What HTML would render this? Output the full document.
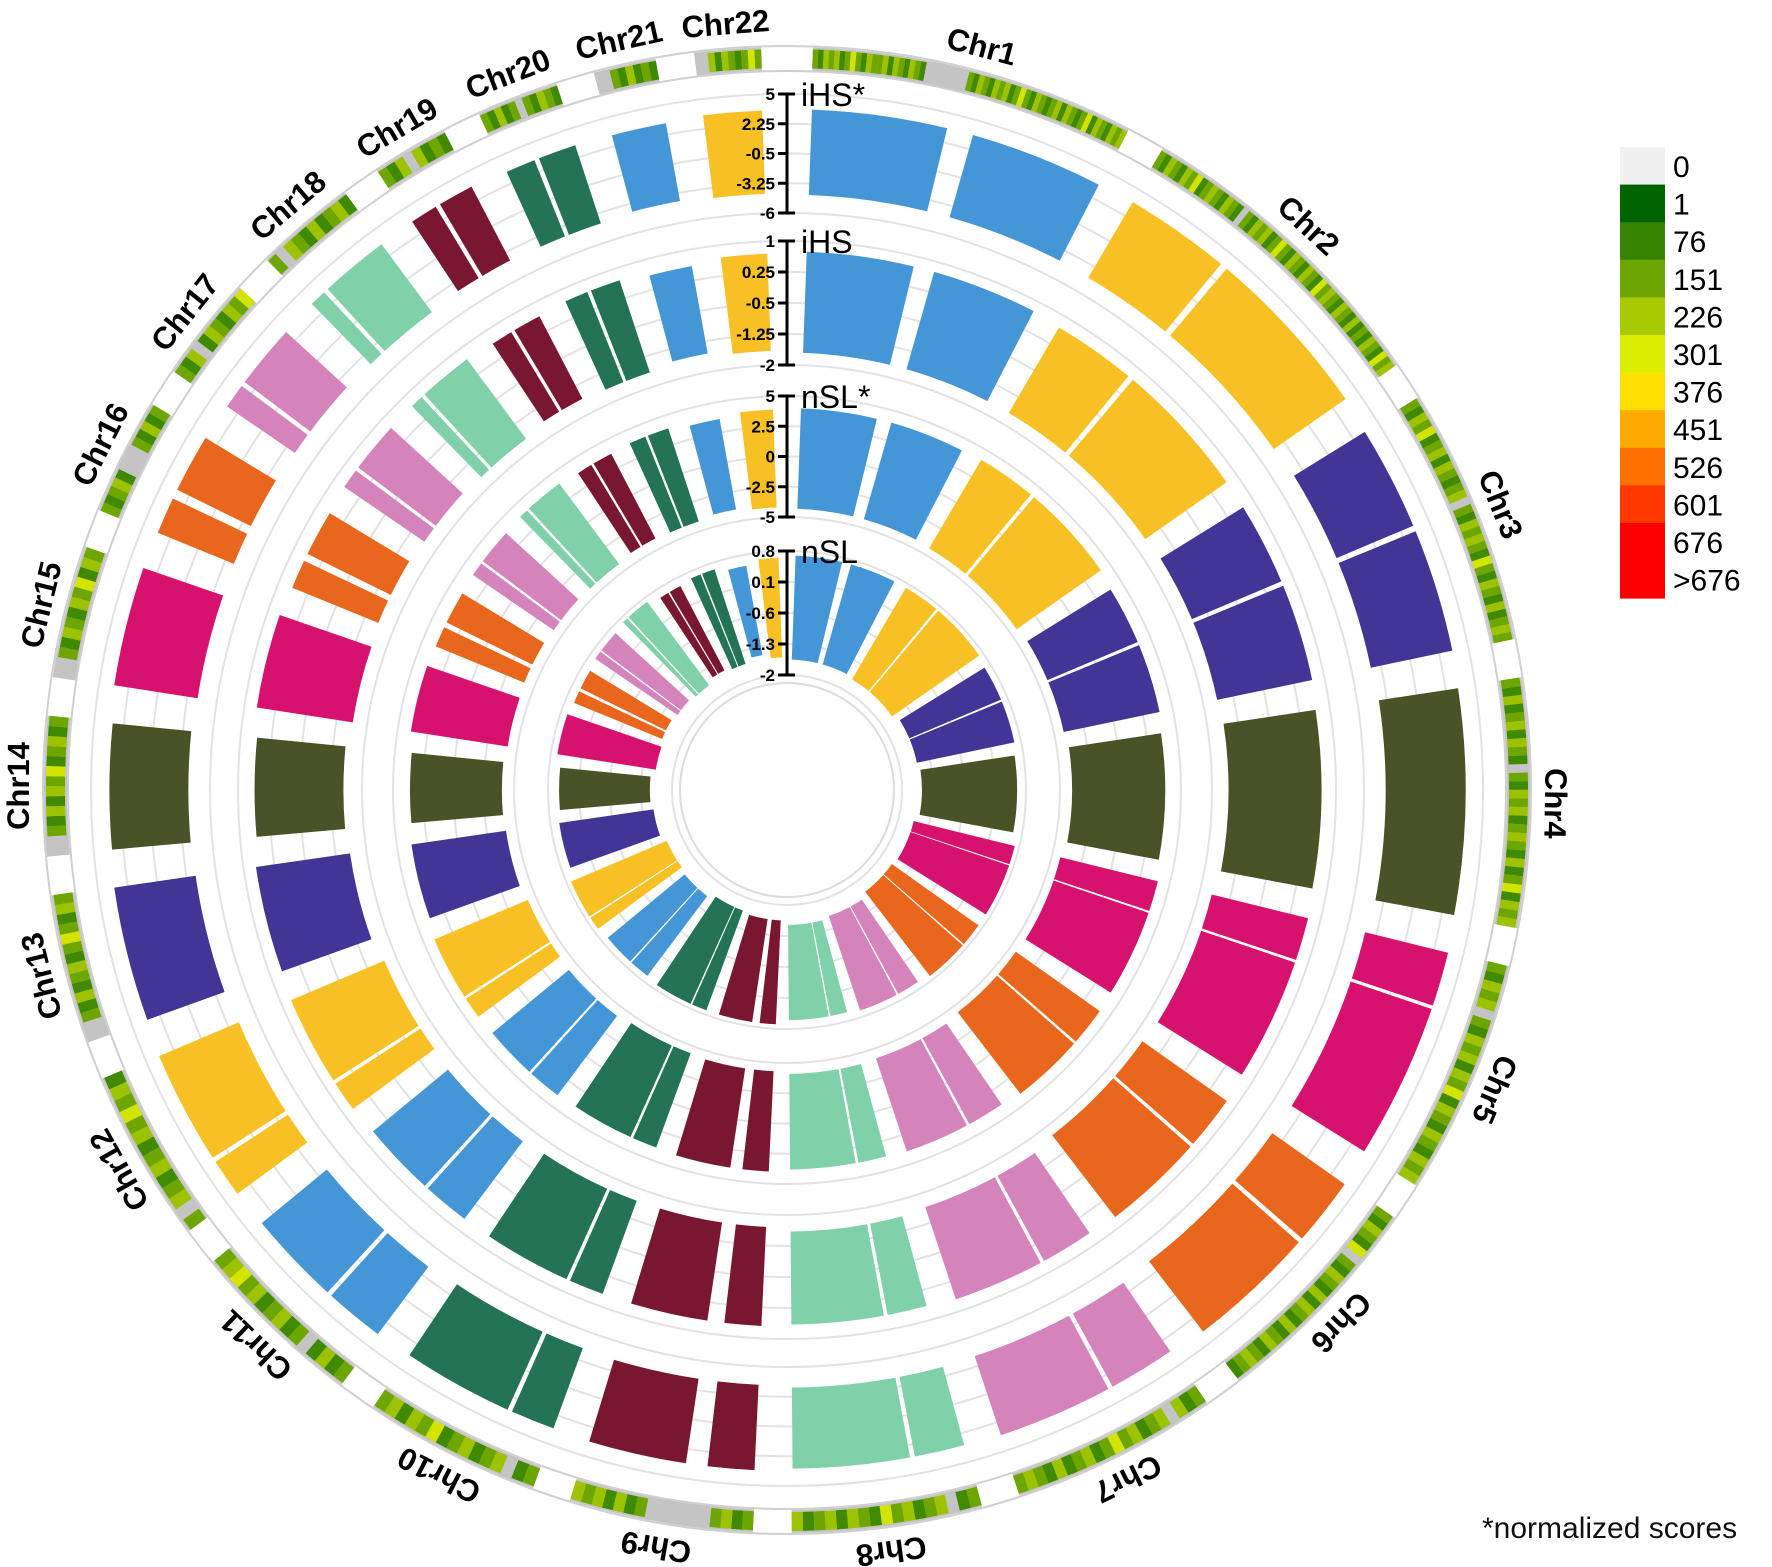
<!DOCTYPE html>
<html><head><meta charset="utf-8"><style>
html,body{margin:0;padding:0;background:#fff;}
svg{display:block;font-family:"Liberation Sans",sans-serif;}
</style></head><body>
<svg id="chart" width="1772" height="1567" viewBox="0 0 1772 1567" xmlns="http://www.w3.org/2000/svg">
<g id="grid"></g>
<g id="ring"></g>
<g id="tracks"></g>
<g id="axes"></g>
<g id="labels"></g>
<g id="legend"></g>
<text x="1482" y="1538" font-size="30" fill="#111">*normalized scores</text>
</svg>
<script>
const chromNames = ["Chr1","Chr2","Chr3","Chr4","Chr5","Chr6","Chr7","Chr8","Chr9","Chr10","Chr11","Chr12","Chr13","Chr14","Chr15","Chr16","Chr17","Chr18","Chr19","Chr20","Chr21","Chr22"];
const chromLengths = [249,243,198,191,181,171,159,146,141,136,135,133,115,107,102,90,81,78,59,63,48,51];
const centromerePos = [125,93,91,0,48,60,59,45,49,40,53,35,0,0,0,36,24,17,26,28,0,0];
const centromereGap = [22,6,5,0,3,4,4,4,18,4,4,4,0,0,0,8,4,4,4,4,0,0];
const chromColors = ["#4596d6","#f7c025","#433595","#4a5228","#d6126e","#e8671c","#d584bb","#80d0a9","#7a1730","#247356","#4596d6","#f7c025","#433595","#4a5228","#d6126e","#e8671c","#d584bb","#80d0a9","#7a1730","#247356","#4596d6","#f7c025"];
const ihsStarHigh = [3.6,3.7,3.5,3.4,3.6,3.8,3.5,3.4,3.6,3.5,3.6,3.7,3.5,3.3,3.6,3.5,3.4,3.5,3.6,3.4,3.3,3.5];
const ihsStarLow  = [-4.3,-4.4,-4.2,-4.0,-4.3,-4.4,-4.2,-4.1,-4.3,-4.4,-4.2,-4.3,-4.1,-4.0,-4.2,-4.1,-4.2,-4.3,-4.1,-4.2,-4.0,-4.2];
const ihsHigh = [0.75,0.7,0.7,0.65,0.7,0.75,0.7,0.65,0.7,0.7,0.7,0.75,0.7,0.6,0.7,0.65,0.7,0.7,0.65,0.7,0.6,0.7];
const ihsLow  = [-1.7,-1.7,-1.65,-1.6,-1.7,-1.75,-1.65,-1.6,-1.7,-1.7,-1.65,-1.7,-1.6,-1.55,-1.65,-1.6,-1.65,-1.7,-1.6,-1.65,-1.55,-1.65];
const nslStarHigh = [4.0,4.1,3.9,3.7,4.0,4.1,3.9,3.8,4.0,3.9,4.0,4.1,3.8,3.6,3.9,3.8,3.9,4.0,3.8,3.9,3.6,3.9];
const nslStarLow  = [-4.3,-4.4,-4.2,-4.0,-4.3,-4.4,-4.2,-4.1,-4.3,-4.4,-4.2,-4.3,-4.1,-4.0,-4.2,-4.1,-4.2,-4.3,-4.1,-4.2,-4.0,-4.2];
const nslHigh = [0.7,0.7,0.65,0.6,0.7,0.7,0.65,0.6,0.7,0.7,0.65,0.7,0.6,0.55,0.65,0.6,0.65,0.7,0.6,0.65,0.55,0.65];
const nslLow  = [-1.65,-1.7,-1.6,-1.55,-1.65,-1.7,-1.6,-1.55,-1.65,-1.7,-1.6,-1.65,-1.55,-1.5,-1.6,-1.55,-1.6,-1.65,-1.55,-1.6,-1.5,-1.6];
const ihsStarTicks = [5,2.25,-0.5,-3.25,-6];
const ihsTicks = [1,0.25,-0.5,-1.25,-2];
const nslStarTicks = [5,2.5,0,-2.5,-5];
const nslTicks = [0.8,0.1,-0.6,-1.3,-2];
const ihsTickLabels = ["1","0.25","-0.5","-1.25","-2"];
const ihsStarTickLabels = ["5","2.25","-0.5","-3.25","-6"];
const nslStarTickLabels = ["5","2.5","0","-2.5","-5"];
const nslTickLabels = ["0.8","0.1","-0.6","-1.3","-2"];
const densityBins = [
"324342353243342432432gggggggg3243243423532432342432352432434","3243243523432432g3243423532432432534324324232432534","32435234243234g324343253243242343","3242342432g324342343242352434","32434g3243424352432432434","324325g3243242432423423432","324g4324353243242343","32g43243523424324","3243gggggg3242434","32g432432534243","3242g3243243543","3g432432435342","gg3242342353243","gg324243523423","gg32432435243","32342ggg32423","324g2432435","3g43242342","324g4232","32423g32432","gg324232","gg42432353"];
const legendLabels = ["0","1","76","151","226","301","376","451","526","601","676",">676"];
const legendColors = ["#f0f0f0","#006400","#358300","#6ea600","#a9c900","#dcec00","#ffe000","#ffaa00","#ff7000","#ff3800","#ff0000","#ff0000"];
const binColors = {"1":"#0a6a00","2":"#3f8a00","3":"#6ea600","4":"#9cc200","5":"#d3e400"};

const NS="http://www.w3.org/2000/svg";
const cx=787, cy=790;
const startA=2, endA=358, gap=3;
const totalLen=chromLengths.reduce((a,b)=>a+b,0);
const span=(endA-startA)-gap*(chromLengths.length-1);
const degPerMb=span/totalLen;
const chromStart=[]; {let a=startA; chromLengths.forEach(l=>{chromStart.push(a); a+=l*degPerMb+gap;});}
function ang(i,mb){return chromStart[i]+mb*degPerMb;}
function pt(r,a){const t=a*Math.PI/180;return [cx+r*Math.sin(t),cy-r*Math.cos(t)];}
function sector(r1,r2,a1,a2){
  const large=(a2-a1)>180?1:0;
  const p1=pt(r2,a1),p2=pt(r2,a2),p3=pt(r1,a2),p4=pt(r1,a1);
  return `M${p1[0]},${p1[1]}A${r2},${r2} 0 ${large} 1 ${p2[0]},${p2[1]}L${p3[0]},${p3[1]}A${r1},${r1} 0 ${large} 0 ${p4[0]},${p4[1]}Z`;
}
function mk(tag,attrs,parent){const e=document.createElementNS(NS,tag);for(const k in attrs)e.setAttribute(k,attrs[k]);parent.appendChild(e);return e;}

const tracks=[
 {name:"iHS*",rOut:696,rIn:577,ticks:ihsStarTicks,tl:ihsStarTickLabels,hi:ihsStarHigh,lo:ihsStarLow},
 {name:"iHS",rOut:549,rIn:425,ticks:ihsTicks,tl:ihsTickLabels,hi:ihsHigh,lo:ihsLow},
 {name:"nSL*",rOut:394,rIn:273,ticks:nslStarTicks,tl:nslStarTickLabels,hi:nslStarHigh,lo:nslStarLow},
 {name:"nSL",rOut:239,rIn:115,ticks:nslTicks,tl:nslTickLabels,hi:nslHigh,lo:nslLow}
];
const grid=document.getElementById('grid'), trG=document.getElementById('tracks'), axG=document.getElementById('axes');
tracks.forEach(t=>{
  const vmax=t.ticks[0], vmin=t.ticks[t.ticks.length-1];
  const rs=v=>t.rIn+(v-vmin)/(vmax-vmin)*(t.rOut-t.rIn);
  t.ticks.forEach(v=>{
    const c=mk('circle',{cx:cx,cy:cy,r:rs(v),fill:'none',stroke:'#e2e2e2','stroke-width':2},grid);
    
    
  });
  chromLengths.forEach((L,i)=>{
    const segs=[];
    if(centromereGap[i]>0&&centromerePos[i]>0){segs.push([1,centromerePos[i]-centromereGap[i]/2]);segs.push([centromerePos[i]+centromereGap[i]/2,L-1]);}
    else segs.push([1,L-1]);
    segs.forEach(s=>{
      const p=mk('path',{d:sector(rs(t.lo[i]),rs(t.hi[i]),ang(i,s[0]),ang(i,s[1])),fill:chromColors[i]},trG);
      
      
    });
  });
  const ax=mk('path',{d:`M${cx+8},${cy-t.rOut}H${cx}V${cy-t.rIn}H${cx+8}`,fill:'none',stroke:'#000','stroke-width':3},axG);
  
  
  t.ticks.forEach((v,k)=>{
    const y=cy-rs(v);
    const tk=mk('line',{x1:cx-9,x2:cx,y1:y,y2:y,stroke:'#000','stroke-width':3},axG);
    
    
    const tx=mk('text',{x:cx-12,y:y+6,'text-anchor':'end','font-size':17,'font-weight':'bold',fill:'#000'},axG);
    tx.textContent=t.tl[k];
    
    
  });
  const tt=mk('text',{x:cx+14,y:cy-t.rOut+12,'font-size':32,fill:'#000'},axG);
  tt.textContent=t.name;
  
  
});
const inner=mk('circle',{cx:cx,cy:cy,r:107,fill:'none',stroke:'#dcdcdc','stroke-width':2},grid);



const ring=document.getElementById('ring');
const rIn=720,rOut=743;
const oc=mk('circle',{cx:cx,cy:cy,r:rOut+1,fill:'none',stroke:'#cfcfcf','stroke-width':2},ring);


const ic=mk('circle',{cx:cx,cy:cy,r:rIn-1,fill:'none',stroke:'#cfcfcf','stroke-width':2},ring);


const lab=document.getElementById('labels');
chromLengths.forEach((L,i)=>{
  const bins=densityBins[i]; const n=bins.length; const w=L/n;
  const bg=mk('path',{d:sector(rIn,rOut,ang(i,0),ang(i,L)),fill:'#c4c4c4'},ring);
  
  
  for(let k=0;k<n;k++){
    const c=bins[k]; if(c==='g')continue;
    const p=mk('path',{d:sector(rIn+2,rOut-2,ang(i,k*w),ang(i,(k+1)*w)),fill:binColors[c]},ring);
    
    
  }
  const mid=ang(i,L/2);
  const tx=mk('text',{x:cx,y:cy-758,'text-anchor':'middle','font-size':31,'font-weight':'bold',fill:'#000',transform:`rotate(${mid},${cx},${cy})`},lab);
  tx.textContent=chromNames[i];
  
  
});

const lg=document.getElementById('legend');
legendLabels.forEach((l,k)=>{
  const y=147+k*37.6;
  const r=mk('rect',{x:1620,y:y,width:45,height:38,fill:legendColors[k]},lg);
  
  
  const t=mk('text',{x:1673,y:y+30,'font-size':30,fill:'#000'},lg);
  t.textContent=l;
  
  
});
</script>
</body></html>
